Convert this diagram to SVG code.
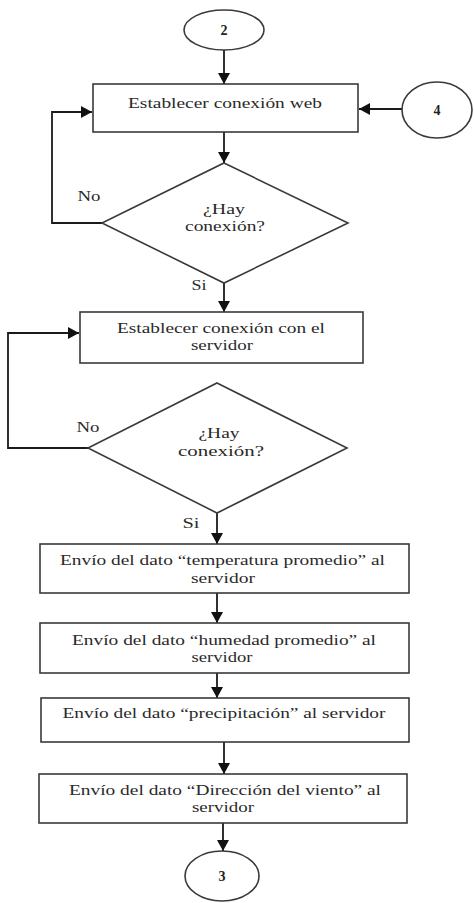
<svg xmlns="http://www.w3.org/2000/svg" width="474" height="903" viewBox="0 0 474 903">
<style>
.shape{fill:#fff;stroke:#3a3a3a;stroke-width:1.6}
.edge{fill:none;stroke:#1a1a1a;stroke-width:1.8}
.t{font-family:"Liberation Serif","Times New Roman",serif;font-size:15px;fill:#2a2a2a;text-anchor:middle}
.d{font-family:"Liberation Serif","Times New Roman",serif;font-size:14px;font-weight:bold;fill:#222;text-anchor:middle}
</style>
<defs>
<marker id="ah" markerUnits="userSpaceOnUse" markerWidth="11" markerHeight="12" refX="11" refY="6" orient="auto">
<path d="M0,0 L11,6 L0,12 z" fill="#111"/>
</marker>
</defs>
<rect width="474" height="903" fill="#fff"/>
<g id="connectors">
<line class="edge" x1="224" y1="50" x2="224" y2="84" marker-end="url(#ah)"/>
<line class="edge" x1="402" y1="109" x2="359" y2="109" marker-end="url(#ah)"/>
<line class="edge" x1="224" y1="132" x2="224" y2="163" marker-end="url(#ah)"/>
<polyline class="edge" points="102,223 52,223 52,112 92,112" marker-end="url(#ah)"/>
<line class="edge" x1="224" y1="283" x2="224" y2="312" marker-end="url(#ah)"/>
<polyline class="edge" points="88,448 8,448 8,333 79,333" marker-end="url(#ah)"/>
<line class="edge" x1="217" y1="513" x2="217" y2="544" marker-end="url(#ah)"/>
<line class="edge" x1="217" y1="593" x2="217" y2="623" marker-end="url(#ah)"/>
<line class="edge" x1="217" y1="673" x2="217" y2="698" marker-end="url(#ah)"/>
<line class="edge" x1="224" y1="742" x2="224" y2="774" marker-end="url(#ah)"/>
<line class="edge" x1="223" y1="823" x2="223" y2="851" marker-end="url(#ah)"/>
</g>
<g id="c2">
<ellipse class="shape" cx="224" cy="30" rx="40" ry="20"/>
<text class="d" x="224" y="35">2</text>
</g>
<g id="c4">
<ellipse class="shape" cx="437" cy="110" rx="35" ry="28"/>
<text class="d" x="437" y="115">4</text>
</g>
<g id="box1">
<rect class="shape" x="93" y="84" width="265" height="48"/>
<text class="t" x="225" y="108" textLength="194" lengthAdjust="spacingAndGlyphs">Establecer conexión web</text>
</g>
<g id="dec1">
<polygon class="shape" points="224,163 348,223 224,283 102,223"/>
<text class="t" x="224" y="214" textLength="42" lengthAdjust="spacingAndGlyphs">¿Hay</text>
<text class="t" x="225" y="231" textLength="80" lengthAdjust="spacingAndGlyphs">conexión?</text>
<text class="t" x="89" y="201" textLength="23" lengthAdjust="spacingAndGlyphs">No</text>
<text class="t" x="199" y="290" textLength="15" lengthAdjust="spacingAndGlyphs">Si</text>
</g>
<g id="box2">
<rect class="shape" x="80" y="312" width="283" height="51"/>
<text class="t" x="221" y="333" textLength="208" lengthAdjust="spacingAndGlyphs">Establecer conexión con el</text>
<text class="t" x="222" y="350" textLength="62" lengthAdjust="spacingAndGlyphs">servidor</text>
</g>
<g id="dec2">
<polygon class="shape" points="217,383 347,448 217,513 88,448"/>
<text class="t" x="219" y="438" textLength="41" lengthAdjust="spacingAndGlyphs">¿Hay</text>
<text class="t" x="221" y="456" textLength="86" lengthAdjust="spacingAndGlyphs">conexión?</text>
<text class="t" x="88" y="432" textLength="23" lengthAdjust="spacingAndGlyphs">No</text>
<text class="t" x="191" y="528" textLength="17" lengthAdjust="spacingAndGlyphs">Si</text>
</g>
<g id="box3">
<rect class="shape" x="40" y="544" width="369" height="49"/>
<text class="t" x="222.5" y="565" textLength="325" lengthAdjust="spacingAndGlyphs">Envío del dato “temperatura promedio” al</text>
<text class="t" x="223" y="583" textLength="64" lengthAdjust="spacingAndGlyphs">servidor</text>
</g>
<g id="box4">
<rect class="shape" x="40" y="623" width="369" height="50"/>
<text class="t" x="224" y="645" textLength="304" lengthAdjust="spacingAndGlyphs">Envío del dato “humedad promedio” al</text>
<text class="t" x="222" y="662" textLength="61" lengthAdjust="spacingAndGlyphs">servidor</text>
</g>
<g id="box5">
<rect class="shape" x="41" y="698" width="368" height="44"/>
<text class="t" x="224" y="718" textLength="323" lengthAdjust="spacingAndGlyphs">Envío del dato “precipitación” al servidor</text>
</g>
<g id="box6">
<rect class="shape" x="39" y="774" width="368" height="49"/>
<text class="t" x="225" y="795" textLength="312" lengthAdjust="spacingAndGlyphs">Envío del dato “Dirección del viento” al</text>
<text class="t" x="223" y="812" textLength="62" lengthAdjust="spacingAndGlyphs">servidor</text>
</g>
<g id="c3">
<ellipse class="shape" cx="222" cy="876" rx="37" ry="25"/>
<text class="d" x="222" y="881">3</text>
</g>
</svg>
